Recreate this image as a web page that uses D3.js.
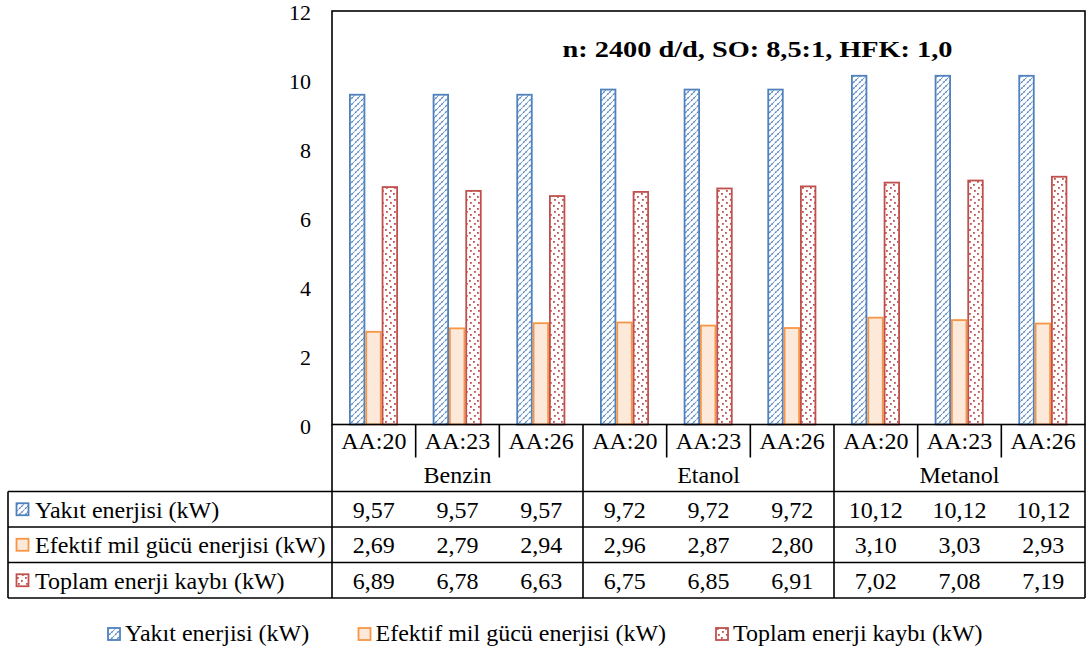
<!DOCTYPE html>
<html><head><meta charset="utf-8">
<script src="https://cdn.jsdelivr.net/npm/d3@7"></script>
<style>body{margin:0;background:#fff}svg{display:block}svg text{font-family:"Liberation Serif",Tinos,"Times New Roman",serif}</style>
</head><body>
<script>
const fuels = ["Benzin","Etanol","Metanol"];
const aaLabels = ["AA:20","AA:23","AA:26"];
const seriesNames = ["Yakıt enerjisi (kW)","Efektif mil gücü enerjisi (kW)","Toplam enerji kaybı (kW)"];
const yakit = [9.57,9.57,9.57,9.72,9.72,9.72,10.12,10.12,10.12];
const efektif = [2.69,2.79,2.94,2.96,2.87,2.80,3.10,3.03,2.93];
const kayip = [6.89,6.78,6.63,6.75,6.85,6.91,7.02,7.08,7.19];
const yTicks = [0,2,4,6,8,10,12];
const title = "n: 2400 d/d, SO: 8,5:1, HFK: 1,0";

const FONT='"Liberation Serif", Tinos, "Times New Roman", serif';
const W=1089,H=651;
const L=332,R=1085,T=11,B=424.5;
const svg=d3.select("body").append("svg").attr("width",W).attr("height",H).attr("font-family",FONT);
const defs=svg.append("defs");
const pb=defs.append("pattern").attr("id","pBlue").attr("patternUnits","userSpaceOnUse").attr("width",6).attr("height",6);
pb.append("rect").attr("width",6).attr("height",6).attr("fill","#fff");
pb.append("path").attr("d","M-1,7 L7,-1 M-4,4 L4,-4 M2,10 L10,2").attr("stroke","#4F81BD").attr("stroke-width",1.4).attr("stroke-dasharray","2.2,0.8");
const pr=defs.append("pattern").attr("id","pRed").attr("patternUnits","userSpaceOnUse").attr("width",8).attr("height",12);
pr.append("rect").attr("width",8).attr("height",12).attr("fill","#fff");
[[1,1],[5,4],[2,7],[6,10]].forEach(p=>pr.append("rect").attr("x",p[0]).attr("y",p[1]).attr("width",1.8).attr("height",1.8).attr("fill","#C0504D"));

const fills=["url(#pBlue)","#FDE9D9","url(#pRed)"];
const strokes=["#4F81BD","#F79646","#C0504D"];
const data=[yakit,efektif,kayip];

const cols=d3.range(9);
const x=d3.scaleBand().domain(cols).range([L,R]).padding(0);
const xs=d3.scaleBand().domain([0,1,2]).range([17,66]).padding(0);
const y=d3.scaleLinear().domain([0,12]).range([B,T]);

function txt(sel){return sel.attr("font-family",FONT).style("font-family",FONT).attr("fill","#000");}

txt(svg.append("g").selectAll("text").data(yTicks).join("text")
 .attr("x",311).attr("y",d=>y(d)).attr("dy",9).attr("text-anchor","end")
 .attr("font-size",22).text(d=>d));

seriesNames.forEach((s,si)=>{
  svg.append("g").selectAll("rect").data(data[si]).join("rect")
   .attr("x",(d,i)=>x(i)+xs(si)+0.9).attr("width",xs.bandwidth()-1.8)
   .attr("y",d=>y(d)).attr("height",d=>B-y(d))
   .attr("fill",fills[si]).attr("stroke",strokes[si]).attr("stroke-width",1.8);
});

svg.append("rect").attr("x",L).attr("y",T).attr("width",R-L).attr("height",B-T)
 .attr("fill","none").attr("stroke","#000").attr("stroke-width",1.6);

txt(svg.append("text").attr("x",757.5).attr("y",57.3).attr("text-anchor","middle")
 .attr("font-size",24).attr("font-weight","bold")
 .attr("textLength",390).attr("lengthAdjust","spacingAndGlyphs").text(title));

const rowAA=457.5;
const rows=[491.5,527,562.5,598];
const g=svg.append("g").attr("stroke","#000").attr("stroke-width",1.6);
g.append("line").attr("x1",L).attr("x2",L).attr("y1",B).attr("y2",rows[3]);
g.append("line").attr("x1",R).attr("x2",R).attr("y1",B).attr("y2",rows[3]);
cols.forEach(i=>{
  if(i>0){
    const xx=x(i);
    g.append("line").attr("x1",xx).attr("x2",xx).attr("y1",B).attr("y2",i%3===0?rows[3]:rowAA);
  }
});
rows.forEach(ry=>g.append("line").attr("x1",8).attr("x2",R).attr("y1",ry).attr("y2",ry));
g.append("line").attr("x1",8).attr("x2",8).attr("y1",rows[0]).attr("y2",rows[3]);

txt(svg.append("g").selectAll("text").data(cols).join("text")
 .attr("x",i=>x(i)+x.bandwidth()/2).attr("y",449.3).attr("text-anchor","middle")
 .attr("font-size",24).text(i=>aaLabels[i%3]));
txt(svg.append("g").selectAll("text").data(fuels).join("text")
 .attr("x",(f,k)=>x(k*3)+x.bandwidth()*1.5).attr("y",483.3).attr("text-anchor","middle")
 .attr("font-size",24).text(f=>f));
const fmt=v=>v.toFixed(2).replace(".",",");
seriesNames.forEach((s,si)=>{
  const cy=(rows[si]+rows[si+1])/2;
  txt(svg.append("g").selectAll("text").data(data[si]).join("text")
   .attr("x",(d,i)=>x(i)+x.bandwidth()/2).attr("y",cy+8.3).attr("text-anchor","middle")
   .attr("font-size",24).text(fmt));
  svg.append("rect").attr("x",16.5).attr("y",cy-6).attr("width",12).attr("height",12)
   .attr("fill",fills[si]).attr("stroke",strokes[si]).attr("stroke-width",1.8);
  txt(svg.append("text").attr("x",35).attr("y",cy+8.3).attr("font-size",24).text(s));
});

const legX=[108,358.5,716];
seriesNames.forEach((s,si)=>{
  svg.append("rect").attr("x",legX[si]).attr("y",628).attr("width",12).attr("height",12)
   .attr("fill",fills[si]).attr("stroke",strokes[si]).attr("stroke-width",1.8);
  txt(svg.append("text").attr("x",legX[si]+17).attr("y",641).attr("font-size",24).text(s));
});
</script></body></html>
